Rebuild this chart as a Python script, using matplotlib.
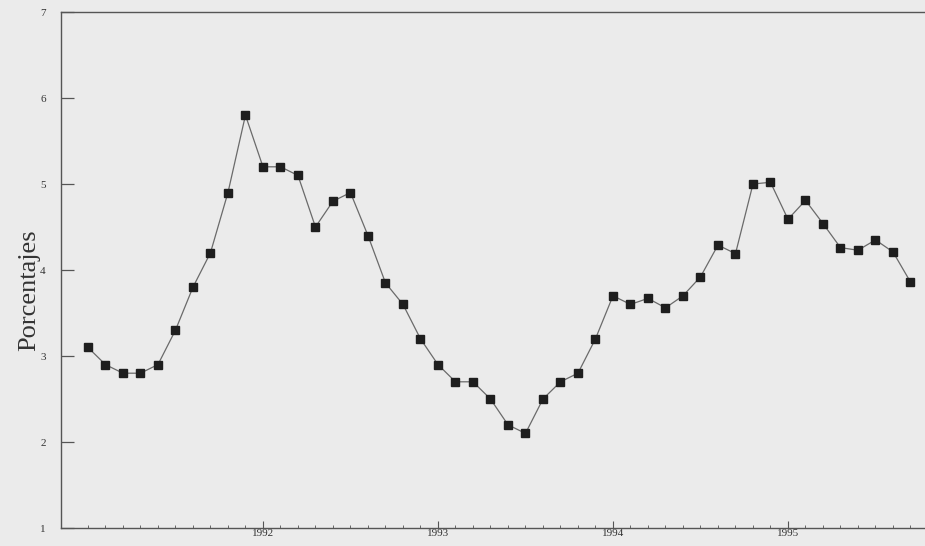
import numpy as np
import matplotlib.pyplot as plt
from matplotlib.ticker import FixedLocator, NullFormatter

# valores mensuales (porcentajes)
valores = [3.1, 2.9, 2.8, 2.8, 2.9, 3.3, 3.8, 4.2, 4.9, 5.8,
           5.2, 5.2, 5.1, 4.5, 4.8, 4.9, 4.4, 3.85, 3.6, 3.2,
           2.9, 2.7, 2.7, 2.5, 2.2, 2.1, 2.5, 2.7, 2.8, 3.2,
           3.7, 3.6, 3.67, 3.56, 3.7, 3.92, 4.29, 4.19, 5.0, 5.02,
           4.59, 4.81, 4.54, 4.26, 4.23, 4.35, 4.21, 3.86]
anios = ['1992', '1993', '1994', '1995']
pos_anios = [10, 20, 30, 40]
y_ticks = [1, 2, 3, 4, 5, 6, 7]

x = np.arange(len(valores))

fondo = '#ebebeb'
fig = plt.figure(figsize=(9.25, 5.46), dpi=100, facecolor=fondo)
ax = fig.add_axes([61/925, 18/546, 874/925, 516/546], facecolor=fondo)

ax.plot(x, valores, color='#6a6a6a', lw=0.9, marker='s', markersize=6,
        markerfacecolor='#1e1e1e', markeredgecolor='#1e1e1e')

ax.set_xlim(-1.54, 48.4)
ax.set_ylim(1, 7)

# 1 ejes
for s in ax.spines.values():
    s.set_color('#555555')
    s.set_linewidth(1.0)

# 2 ticks
ax.set_yticks(y_ticks)
ax.set_yticklabels([str(v) for v in y_ticks], family='Liberation Serif',
                   fontsize=8, color='#333333')
ax.tick_params(axis='y', direction='in', length=9, width=0.9,
               color='#555555', pad=11)

ax.xaxis.set_major_locator(FixedLocator(pos_anios))
ax.set_xticklabels(anios, family='Liberation Serif', fontsize=8,
                   color='#333333')
ax.xaxis.set_minor_locator(FixedLocator(list(range(0, 49))))
ax.xaxis.set_minor_formatter(NullFormatter())
ax.tick_params(axis='x', which='major', direction='in', length=5,
               width=0.8, color='#555555', pad=1)
ax.tick_params(axis='x', which='minor', direction='in', length=2.5,
               width=0.7, color='#666666')

# 3 titulo del eje
ax.set_ylabel('Porcentajes', family='Liberation Serif', fontsize=19,
              color='#333333')
ax.yaxis.set_label_coords(-0.024, 0.46)

fig.savefig('out.png', dpi=100, facecolor=fondo)
